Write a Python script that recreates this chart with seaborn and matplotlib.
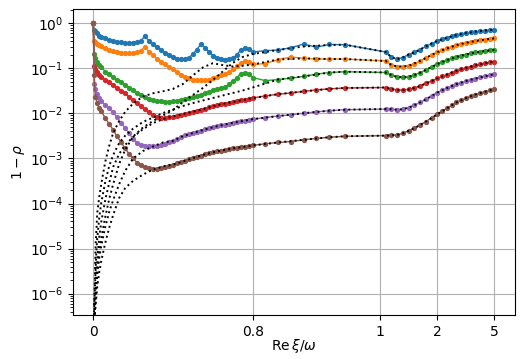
import numpy as np
import matplotlib
matplotlib.use("Agg")
import matplotlib.pyplot as plt
import seaborn as sns

# sample points of Re xi / omega (shared by the six measured series)
xi = [0, 0.005, 0.01, 0.02, 0.03, 0.04,
      0.06, 0.08, 0.10, 0.12, 0.14, 0.16, 0.18, 0.20, 0.22, 0.24,
      0.26, 0.28, 0.30, 0.32, 0.34, 0.36, 0.38, 0.40, 0.42, 0.44,
      0.46, 0.48, 0.50, 0.52, 0.54, 0.56, 0.58, 0.60, 0.62, 0.64,
      0.66, 0.68, 0.70, 0.72, 0.74, 0.76, 0.78, 0.80,
      0.82, 0.84, 0.86, 0.88, 0.90, 0.92, 0.945,
      1.1, 1.2, 1.3, 1.4, 1.5, 1.6, 1.7, 1.8, 1.9, 2.0,
      2.25, 2.5, 2.75, 3.0, 3.25, 3.5, 3.75, 4.0, 4.25, 4.5, 4.75, 5.0]

blue = [1.0, 0.710, 0.658, 0.594, 0.536, 0.509,
        0.460, 0.426, 0.401, 0.389, 0.375, 0.362, 0.360, 0.369, 0.385, 0.411,
        0.531, 0.395, 0.339, 0.293, 0.256, 0.222, 0.195, 0.176, 0.165, 0.159,
        0.163, 0.172, 0.208, 0.262, 0.347, 0.290, 0.231, 0.192, 0.174, 0.165,
        0.157, 0.159, 0.173, 0.193, 0.262, 0.279, 0.272, 0.231,
        0.247, 0.256, 0.287, 0.347, 0.295, 0.339, 0.335,
        0.231, 0.177, 0.161, 0.174, 0.203, 0.225, 0.262, 0.306, 0.356, 0.405,
        0.444, 0.477, 0.512, 0.547, 0.579, 0.603, 0.631, 0.654, 0.675, 0.692, 0.707, 0.721]

orange = [1.0, 0.405, 0.385, 0.347, 0.322, 0.309,
          0.283, 0.262, 0.245, 0.232, 0.224, 0.217, 0.217, 0.223, 0.231, 0.249,
          0.303, 0.231, 0.198, 0.165, 0.141, 0.124, 0.108, 0.0944, 0.0822, 0.0724,
          0.0650, 0.0596, 0.0566, 0.0552, 0.0552, 0.0552, 0.0566, 0.0596, 0.0644, 0.0695,
          0.0750, 0.0831, 0.0944, 0.111, 0.132, 0.148, 0.137, 0.122,
          0.128, 0.157, 0.179, 0.167, 0.161, 0.161, 0.161,
          0.146, 0.119, 0.110, 0.110, 0.114, 0.128, 0.146, 0.170, 0.198, 0.228,
          0.252, 0.276, 0.301, 0.327, 0.349, 0.369, 0.389, 0.405, 0.422, 0.437, 0.451, 0.462]

green = [1.0, 0.208, 0.174, 0.142, 0.119, 0.106,
         0.0852, 0.0738, 0.0644, 0.0563, 0.0491, 0.0428, 0.0374, 0.0326, 0.0287, 0.0256,
         0.0226, 0.0207, 0.0197, 0.0191, 0.0186, 0.0183, 0.0183, 0.0184, 0.0191, 0.0201,
         0.0209, 0.0215, 0.0226, 0.0244, 0.0263, 0.0277, 0.0299, 0.0323, 0.0348, 0.0367,
         0.0386, 0.0439, 0.0524, 0.0611, 0.0769, 0.0801, 0.0750, 0.0627,
         0.0533, 0.0566, 0.0605, 0.0664, 0.0743, 0.0806, 0.0843,
         0.0810, 0.0713, 0.0644, 0.0633, 0.0647, 0.0713, 0.0801, 0.0920, 0.107, 0.125,
         0.138, 0.152, 0.166, 0.180, 0.192, 0.203, 0.215, 0.225, 0.234, 0.243, 0.252, 0.258]

red = [1.0, 0.113, 0.0993, 0.0810, 0.0702, 0.0650,
       0.0552, 0.0486, 0.0423, 0.0369, 0.0321, 0.0280, 0.0226, 0.0197, 0.0168, 0.0144,
       0.0124, 0.0107, 0.00923, 0.00842, 0.00809, 0.00809, 0.00825, 0.00851, 0.00891, 0.00928,
       0.00987, 0.0104, 0.0109, 0.0114, 0.0120, 0.0128, 0.0136, 0.0144, 0.0152, 0.0160,
       0.0166, 0.0173, 0.0180, 0.0188, 0.0196, 0.0203, 0.0211, 0.0220,
       0.0245, 0.0267, 0.0285, 0.0308, 0.0333, 0.0350, 0.0367,
       0.0376, 0.0348, 0.0331, 0.0330, 0.0342, 0.0367, 0.0406, 0.0462, 0.0524, 0.0596,
       0.0660, 0.0728, 0.0801, 0.0883, 0.0954, 0.102, 0.109, 0.116, 0.122, 0.129, 0.136, 0.142]

purple = [1.0, 0.0450, 0.0348, 0.0270, 0.0215, 0.0189,
          0.0154, 0.0129, 0.0105, 0.00813, 0.00614, 0.00475, 0.00359, 0.00271, 0.00224, 0.00202,
          0.00194, 0.00192, 0.00192, 0.00194, 0.00203, 0.00215, 0.00227, 0.00245, 0.00271, 0.00300,
          0.00324, 0.00350, 0.00368, 0.00391, 0.00416, 0.00445, 0.00470, 0.00493, 0.00516, 0.00540,
          0.00568, 0.00595, 0.00620, 0.00646, 0.00669, 0.00694, 0.00723, 0.00745,
          0.00809, 0.00877, 0.00928, 0.0101, 0.0108, 0.0115, 0.0121,
          0.0125, 0.0124, 0.0121, 0.0124, 0.0135, 0.0152, 0.0175, 0.0204, 0.0244, 0.0291,
          0.0326, 0.0363, 0.0402, 0.0445, 0.0483, 0.0522, 0.0558, 0.0593, 0.0630, 0.0667, 0.0706, 0.0743]

brown = [1.0, 0.0713, 0.0232, 0.0170, 0.0132, 0.0113,
         0.00792, 0.00583, 0.00429, 0.00308, 0.00227, 0.00167, 0.00126, 0.00100, 0.000815, 0.000707,
         0.000642, 0.000603, 0.000591, 0.000594, 0.000610, 0.000648, 0.000689, 0.000733, 0.000779, 0.000828,
         0.000890, 0.000951, 0.00102, 0.00109, 0.00116, 0.00123, 0.00130, 0.00137, 0.00144, 0.00150,
         0.00155, 0.00161, 0.00167, 0.00173, 0.00178, 0.00184, 0.00190, 0.00195,
         0.00212, 0.00227, 0.00238, 0.00260, 0.00279, 0.00296, 0.00311,
         0.00322, 0.00327, 0.00334, 0.00362, 0.00412, 0.00470, 0.00554, 0.00659, 0.00792, 0.00957,
         0.0112, 0.0129, 0.0150, 0.0175, 0.0196, 0.0217, 0.0241, 0.0263, 0.0283, 0.0302, 0.0323, 0.0345]

# fitted curves (black dotted)
xi_fit = [0.004, 0.008, 0.012, 0.016, 0.02, 0.03, 0.04, 0.06, 0.08, 0.10,
          0.13, 0.16, 0.20, 0.25, 0.30, 0.35, 0.40, 0.45, 0.50, 0.55,
          0.60, 0.65, 0.70, 0.75, 0.80, 0.84, 0.88, 0.92, 0.945,
          1.1, 1.2, 1.3, 1.4, 1.5, 1.6, 1.7, 1.8, 1.9, 2.0,
          2.5, 3.0, 3.5, 4.0, 4.5, 5.0]

fit_blue = [2.6e-7, 3.9e-7, 9.4e-7, 1.8e-6, 3.4e-6, 8.9e-6, 1.7e-5, 5.0e-5, 1.26e-4, 2.7e-4,
            7.6e-4, 1.55e-3, 3.08e-3, 4.9e-3, 6.8e-3, 9.0e-3, 1.19e-2, 1.79e-2, 2.56e-2, 3.67e-2,
            5.52e-2, 8.52e-2, 0.132, 0.179, 0.208, 0.256, 0.306, 0.330, 0.335,
            0.231, 0.177, 0.161, 0.174, 0.203, 0.225, 0.262, 0.306, 0.356, 0.405,
            0.477, 0.547, 0.603, 0.654, 0.692, 0.721]
fit_orange = [5.6e-7, 2.0e-6, 1.27e-5, 2.6e-5, 6.2e-5, 1.4e-4, 2.7e-4, 8.4e-4, 1.9e-3, 3.7e-3,
              6.8e-3, 1.08e-2, 1.66e-2, 2.38e-2, 2.8e-2, 3.1e-2, 3.5e-2, 4.5e-2, 6.95e-2, 0.105,
              0.130, 0.118, 0.110, 0.114, 0.122, 0.157, 0.167, 0.161, 0.161,
              0.146, 0.119, 0.110, 0.110, 0.114, 0.128, 0.146, 0.170, 0.198, 0.228,
              0.276, 0.327, 0.369, 0.405, 0.437, 0.462]
fit_green = [3.9e-7, 1.2e-6, 3.7e-6, 9.3e-6, 1.7e-5, 4.8e-5, 1.03e-4, 3.0e-4, 6.8e-4, 1.2e-3,
             2.2e-3, 3.2e-3, 4.6e-3, 6.5e-3, 8.1e-3, 1.02e-2, 1.22e-2, 1.46e-2, 1.7e-2, 1.94e-2,
             2.2e-2, 2.5e-2, 2.84e-2, 3.23e-2, 3.76e-2, 0.0566, 0.0664, 0.0806, 0.0843,
             0.0810, 0.0713, 0.0644, 0.0633, 0.0647, 0.0713, 0.0801, 0.0920, 0.107, 0.125,
             0.152, 0.180, 0.203, 0.225, 0.243, 0.258]
fit_red = [3.4e-7, 7.3e-7, 1.56e-6, 3.0e-6, 5.6e-6, 1.8e-5, 3.9e-5, 1.2e-4, 2.86e-4, 6.5e-4,
           1.26e-3, 2.0e-3, 3.0e-3, 4.5e-3, 6.1e-3, 7.5e-3, 8.6e-3, 9.7e-3, 0.0109, 0.0124,
           0.0144, 0.0163, 0.0180, 0.0199, 0.0220, 0.0267, 0.0308, 0.0350, 0.0367,
           0.0376, 0.0348, 0.0331, 0.0330, 0.0342, 0.0367, 0.0406, 0.0462, 0.0524, 0.0596,
           0.0728, 0.0883, 0.102, 0.116, 0.129, 0.142]
fit_purple = [2.6e-7, 4.8e-7, 8.9e-7, 1.56e-6, 2.5e-6, 6.2e-6, 1.15e-5, 3.0e-5, 6.5e-5, 1.2e-4,
              2.7e-4, 5.3e-4, 1.0e-3, 1.47e-3, 1.85e-3, 2.27e-3, 0.00245, 0.00313, 0.00368, 0.00429,
              0.00493, 0.00554, 0.00620, 0.0068, 0.00745, 0.00877, 0.0101, 0.0115, 0.0121,
              0.0125, 0.0124, 0.0121, 0.0124, 0.0135, 0.0152, 0.0175, 0.0204, 0.0244, 0.0291,
              0.0363, 0.0445, 0.0522, 0.0593, 0.0667, 0.0743]
fit_brown = [2.1e-7, 3.4e-7, 5.6e-7, 8.9e-7, 1.41e-6, 3.0e-6, 5.3e-6, 1.33e-5, 2.9e-5, 5.6e-5,
             1.33e-4, 2.2e-4, 3.2e-4, 4.4e-4, 5.7e-4, 6.65e-4, 0.000733, 0.000859, 0.00102, 0.00120,
             0.00137, 0.00152, 0.00167, 0.00181, 0.00195, 0.00227, 0.00260, 0.00296, 0.00311,
             0.00322, 0.00327, 0.00334, 0.00362, 0.00412, 0.00470, 0.00554, 0.00659, 0.00792, 0.00957,
             0.0129, 0.0175, 0.0217, 0.0263, 0.0302, 0.0345]

xticks = [0, 0.8, 1, 2, 5]
xticklabels = ["0", "0.8", "1", "2", "5"]

series = [blue, orange, green, red, purple, brown]
fits = [fit_blue, fit_orange, fit_green, fit_red, fit_purple, fit_brown]
colors = sns.color_palette("tab10")[:6]

# piecewise-linear axis: stretched between 0.8 and 1, compressed above 1
knot_x = [-1, 0, 0.8, 1, 2, 5, 10]
knot_u = [-199.25, 0, 159.4, 286.7, 344, 401, 496]

def fwd(x):
    return np.interp(x, knot_x, knot_u)

def inv(u):
    return np.interp(u, knot_u, knot_x)

fig = plt.figure(figsize=(5.27, 3.59), dpi=100)
ax = fig.add_axes([0.139, 0.1226, 0.8387, 0.8515])
ax.set_xscale("function", functions=(fwd, inv))
ax.set_yscale("log")

for vals, c in zip(series, colors):
    sns.lineplot(x=xi, y=vals, ax=ax, color=c, marker="o", markersize=3.8,
                 markeredgewidth=0, linewidth=1.0, sort=False, zorder=2)

for vals in fits:
    sns.lineplot(x=xi_fit, y=vals, ax=ax, color="black", linestyle=":",
                 linewidth=1.4, sort=False, zorder=3)

ax.set_xlim(-0.1004, 6.105)
ax.set_ylim(3.37e-7, 2.045)
ax.set_xticks(xticks)
ax.set_xticklabels(xticklabels)
ax.xaxis.set_minor_locator(matplotlib.ticker.NullLocator())
ax.grid(True, which="major", color="#b0b0b0", linewidth=0.8)
ax.set_axisbelow(True)
ax.set_xlabel(r"$\mathrm{Re}\,\xi/\omega$", fontsize=10, labelpad=-1)
ax.set_ylabel(r"$1-\rho$", fontsize=10, labelpad=2)

fig.savefig("out.png", dpi=100)
